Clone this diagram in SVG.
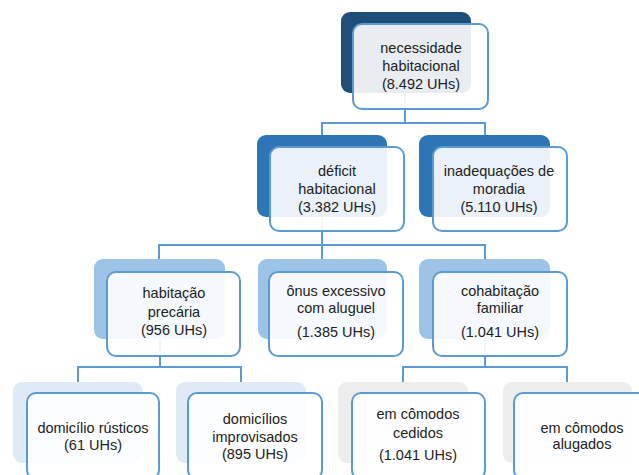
<svg xmlns="http://www.w3.org/2000/svg" width="639" height="475" viewBox="0 0 639 475">
<style>
.bk{stroke:none}
.fr{fill:#ffffff;fill-opacity:0.9;stroke:#5B9BD5;stroke-width:2}
.c{fill:none;stroke:#5B9BD5;stroke-width:2}
text{font-family:"Liberation Sans",Arial,sans-serif;font-size:14.5px;fill:#222;text-anchor:middle}
</style>
<rect width="639" height="475" fill="#ffffff"/>
<g id="connectors">
<path class="c" d="M405,93 V123 M322,135 V123 H485 V135"/>
<path class="c" d="M322,217 V245 M159,259 V245 H485 V259 M322,245 V259"/>
<path class="c" d="M160,339 V367 M78,382 V367 H241 V382"/>
<path class="c" d="M485,339 V367 M403,382 V367 H567 V382"/>
</g>
<g id="n-necessidade">
<rect class="bk" x="341" y="12" width="130" height="81" rx="9" fill="#1F4E79"/>
<rect class="fr" x="353" y="24" width="135" height="85" rx="9"/>
<text x="421" y="53">necessidade</text>
<text x="421" y="71">habitacional</text>
<text x="421" y="89">(8.492 UHs)</text>
</g>
<g id="n-deficit">
<rect class="bk" x="257" y="135" width="130" height="82" rx="9" fill="#2E75B6"/>
<rect class="fr" x="270" y="147" width="134" height="84" rx="9"/>
<text x="337" y="176">déficit</text>
<text x="337" y="194">habitacional</text>
<text x="337" y="212">(3.382 UHs)</text>
</g>
<g id="n-inadequacoes">
<rect class="bk" x="419" y="135" width="131" height="82" rx="9" fill="#2E75B6"/>
<rect class="fr" x="433" y="147" width="134" height="84" rx="9"/>
<text x="499" y="176">inadequações de</text>
<text x="499" y="194">moradia</text>
<text x="499" y="212">(5.110 UHs)</text>
</g>
<g id="n-habitacao">
<rect class="bk" x="94" y="259" width="131" height="80" rx="9" fill="#9DC3E6"/>
<rect class="fr" x="107" y="272" width="133" height="84" rx="9"/>
<text x="174" y="298">habitação</text>
<text x="174" y="317">precária</text>
<text x="174" y="335">(956 UHs)</text>
</g>
<g id="n-onus">
<rect class="bk" x="258" y="259" width="129" height="80" rx="9" fill="#9DC3E6"/>
<rect class="fr" x="269" y="272" width="134" height="84" rx="9"/>
<text x="336" y="296">ônus excessivo</text>
<text x="336" y="313">com aluguel</text>
<text x="336" y="337">(1.385 UHs)</text>
</g>
<g id="n-cohabitacao">
<rect class="bk" x="419" y="259" width="131" height="80" rx="9" fill="#9DC3E6"/>
<rect class="fr" x="433" y="272" width="134" height="84" rx="9"/>
<text x="500" y="296">cohabitação</text>
<text x="500" y="313">familiar</text>
<text x="500" y="337">(1.041 UHs)</text>
</g>
<g id="n-rusticos">
<rect class="bk" x="13" y="382" width="130" height="81" rx="9" fill="#DEEBF7"/>
<rect class="fr" x="27" y="393" width="132" height="86" rx="9"/>
<text x="93" y="433">domicílio rústicos</text>
<text x="93" y="450">(61 UHs)</text>
</g>
<g id="n-improvisados">
<rect class="bk" x="176" y="382" width="130" height="81" rx="9" fill="#DEEBF7"/>
<rect class="fr" x="188" y="393" width="134" height="86" rx="9"/>
<text x="255" y="424">domicílios</text>
<text x="255" y="442">improvisados</text>
<text x="255" y="459">(895 UHs)</text>
</g>
<g id="n-cedidos">
<rect class="bk" x="338" y="382" width="130" height="81" rx="9" fill="#EDEDED"/>
<rect class="fr" x="352" y="393" width="133" height="86" rx="9"/>
<text x="418" y="419">em cômodos</text>
<text x="418" y="438">cedidos</text>
<text x="418" y="460">(1.041 UHs)</text>
</g>
<g id="n-alugados">
<rect class="bk" x="503" y="382" width="129" height="81" rx="9" fill="#EDEDED"/>
<rect class="fr" x="514" y="393" width="134" height="86" rx="9"/>
<text x="582" y="433">em cômodos</text>
<text x="582" y="449">alugados</text>
</g>
</svg>
